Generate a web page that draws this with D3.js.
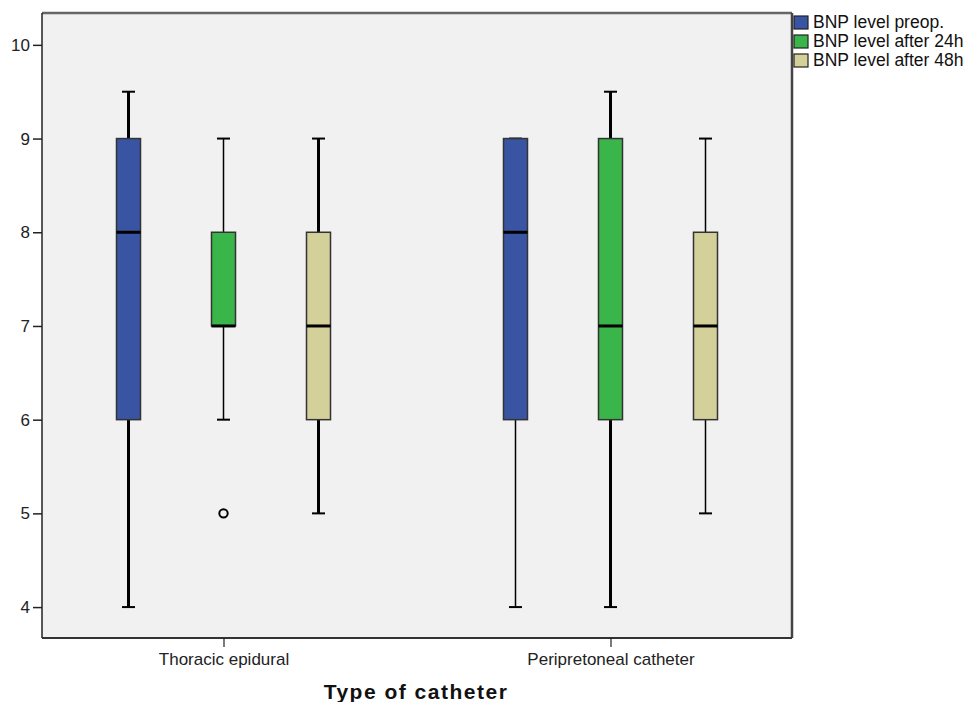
<!DOCTYPE html>
<html><head><meta charset="utf-8">
<script src="https://cdn.jsdelivr.net/npm/d3@7"></script>
<style>body{margin:0;background:#fff;} text{font-family:"Liberation Sans",Arial,sans-serif;}</style>
</head><body>
<svg id="c" width="971" height="702"></svg>
<script>
const categories = ["Thoracic epidural", "Peripretoneal catheter"];
const seriesNames = ["BNP level preop.", "BNP level after 24h", "BNP level after 48h"];
const yTicks = [4, 5, 6, 7, 8, 9, 10];
// [whiskerLow, Q1, median, Q3, whiskerHigh] per category, per series
const preopStats = [[4, 6, 8, 9, 9.5], [4, 6, 8, 9, 9]];
const after24Stats = [[6, 7, 7, 8, 9], [4, 6, 7, 9, 9.5]];
const after48Stats = [[5, 6, 7, 8, 9], [5, 6, 7, 8, 9]];
const outliers24 = [[5], []];
const outliersPreop = [[], []];
const outliers48 = [[], []];

const statsBySeries = [preopStats, after24Stats, after48Stats];
const outliersBySeries = [outliersPreop, outliers24, outliers48];
const colors = ["#3a54a4", "#3ab54a", "#d4d09a"];
// whisker stroke widths (style), per series per category
const whiskerW = [[3, 1.5], [1.5, 3], [3, 1.5]];

const svg = d3.select("#c");
const L = 42, R = 792, T = 13, B = 638;
const x = d3.scalePoint().domain(categories).range([L, R]).padding(0.469);
const xs = d3.scalePoint().domain(seriesNames).range([-95, 95]);
const y = d3.scaleLinear().domain([3.67, 10.34]).range([B, T]);
const bw = 24, cap = 13;

svg.append("rect").attr("x", L).attr("y", T).attr("width", R - L).attr("height", B - T)
  .attr("fill", "#f0f1f0");

const g = svg.append("g");
statsBySeries.forEach((st, si) => {
  st.forEach((s, ci) => {
    const cx = x(categories[ci]) + xs(seriesNames[si]);
    const [lo, q1, med, q3, hi] = s;
    const sw = whiskerW[si][ci];
    g.append("line").attr("x1", cx).attr("x2", cx).attr("y1", y(hi)).attr("y2", y(q3))
      .attr("stroke", "#000").attr("stroke-width", sw);
    g.append("line").attr("x1", cx).attr("x2", cx).attr("y1", y(q1)).attr("y2", y(lo))
      .attr("stroke", "#000").attr("stroke-width", sw);
    [hi, lo].forEach(v => {
      g.append("line").attr("x1", cx - cap / 2).attr("x2", cx + cap / 2).attr("y1", y(v)).attr("y2", y(v))
        .attr("stroke", "#000").attr("stroke-width", 2);
    });
    g.append("rect").attr("x", cx - bw / 2).attr("y", y(q3)).attr("width", bw).attr("height", y(q1) - y(q3))
      .attr("fill", colors[si]).attr("stroke", "#333").attr("stroke-width", 1.5);
    g.append("line").attr("x1", cx - bw / 2).attr("x2", cx + bw / 2).attr("y1", y(med)).attr("y2", y(med))
      .attr("stroke", "#000").attr("stroke-width", 3);
    outliersBySeries[si][ci].forEach(v => {
      g.append("circle").attr("cx", cx).attr("cy", y(v)).attr("r", 4.2)
        .attr("fill", "none").attr("stroke", "#000").attr("stroke-width", 2);
    });
  });
});

// frame
svg.append("line").attr("x1", L).attr("x2", R).attr("y1", T).attr("y2", T).attr("stroke", "#666").attr("stroke-width", 2.5);
svg.append("line").attr("x1", R).attr("x2", R).attr("y1", T).attr("y2", B).attr("stroke", "#444").attr("stroke-width", 2.5);
svg.append("line").attr("x1", L).attr("x2", R).attr("y1", B).attr("y2", B).attr("stroke", "#333").attr("stroke-width", 2);

// y axis
const ya = svg.append("g").attr("transform", `translate(${L},0)`)
  .call(d3.axisLeft(y).tickValues(yTicks).tickFormat(d3.format("d")).tickSize(9).tickPadding(3).tickSizeOuter(0));
ya.select(".domain").attr("stroke", "#222").attr("stroke-width", 1.5).attr("d", `M0,${T}V${B}`);
ya.selectAll(".tick line").attr("stroke", "#222").attr("stroke-width", 1.5);
ya.selectAll(".tick text").attr("font-size", 17).attr("fill", "#222").attr("font-family", "Liberation Sans, Arial, sans-serif");

// x axis
const xa = svg.append("g").attr("transform", `translate(0,${B})`)
  .call(d3.axisBottom(x).tickSize(9).tickPadding(6).tickSizeOuter(0));
xa.select(".domain").remove();
xa.selectAll(".tick line").attr("stroke", "#222").attr("stroke-width", 1.2);
xa.selectAll(".tick text").attr("font-size", 17).attr("fill", "#222").attr("font-family", "Liberation Sans, Arial, sans-serif");

svg.append("text").attr("x", 416).attr("y", 699).attr("text-anchor", "middle")
  .attr("font-size", 21).attr("font-weight", "bold").attr("letter-spacing", 1.5).attr("fill", "#111")
  .text("Type of catheter");

// legend
const lg = svg.append("g");
seriesNames.forEach((n, i) => {
  lg.append("rect").attr("x", 794).attr("y", 16 + i * 19).attr("width", 14).attr("height", 13)
    .attr("fill", colors[i]).attr("stroke", "#222").attr("stroke-width", 1.2);
  lg.append("text").attr("x", 813).attr("y", 28 + i * 19).attr("font-size", 17.5).attr("fill", "#111").text(n);
});
</script>
</body></html>
